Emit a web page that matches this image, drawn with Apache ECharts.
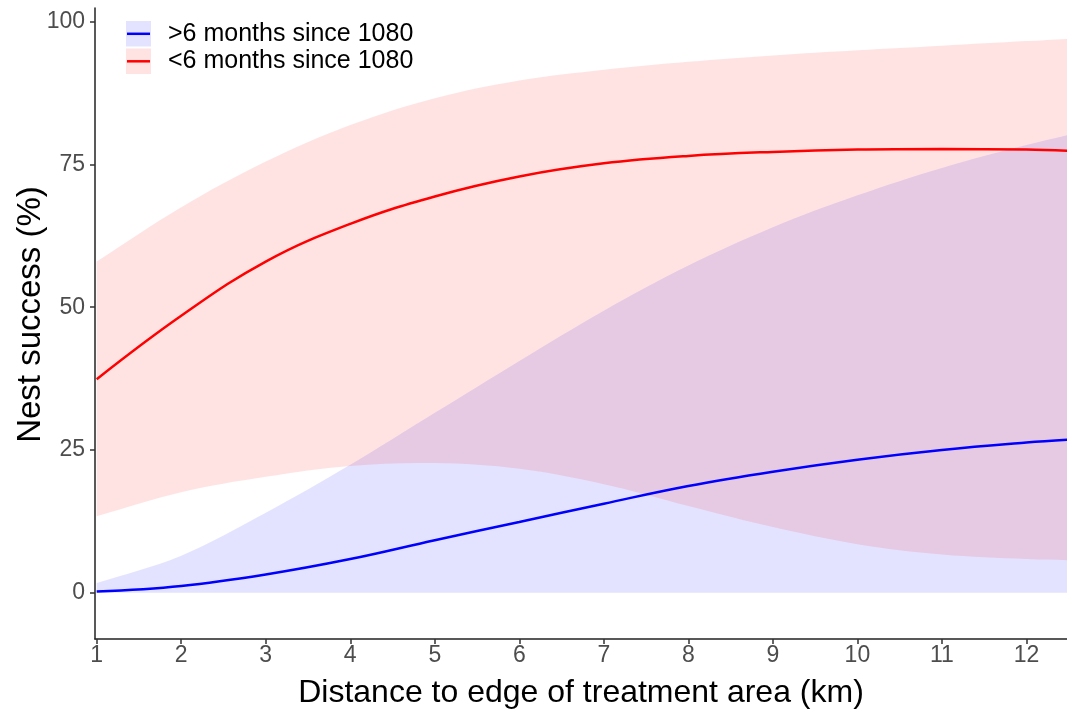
<!DOCTYPE html>
<html>
<head>
<meta charset="utf-8">
<script src="https://cdn.jsdelivr.net/npm/echarts@6/dist/echarts.min.js"></script>
<style>
  html, body { margin: 0; padding: 0; background: #fff; }
  #chart { width: 1067px; height: 709px; }
</style>
</head>
<body>
<div id="chart"></div>
<script>
// 数据
var distance = [1, 2, 3, 4, 5, 6, 7, 8, 9, 10, 11, 12, 12.5];
// >6 months since 1080
var blueFit   = [0.2, 1.2, 3.2, 5.9, 9.2, 12.4, 15.6, 18.7, 21.2, 23.3, 25.0, 26.3, 26.8];
var blueLower = [0, 0, 0, 0, 0, 0, 0, 0, 0, 0, 0, 0, 0];
var blueUpper = [1.7, 6.5, 14.0, 22.4, 31.5, 40.6, 49.4, 57.3, 64.0, 69.6, 74.4, 78.4, 80.2];
// <6 months since 1080
var redFit   = [37.4, 48.5, 58.0, 64.6, 69.4, 72.9, 75.2, 76.5, 77.2, 77.6, 77.7, 77.6, 77.4];
var redLower = [13.4, 17.6, 20.3, 22.2, 22.7, 21.7, 19.0, 15.2, 11.5, 8.5, 6.7, 5.9, 5.7];
var redUpper = [58.0, 67.5, 75.5, 81.9, 86.6, 89.7, 91.6, 93.0, 94.1, 95.0, 95.8, 96.6, 97.0];
// 刻度
var xTicks = [1, 2, 3, 4, 5, 6, 7, 8, 9, 10, 11, 12];
var yTicks = [0, 25, 50, 75, 100];
var seriesNames = ['>6 months since 1080', '<6 months since 1080'];

var FONT = '"Liberation Sans", Arial, sans-serif';

function pairs(xs, ys) {
    return xs.map(function (x, i) { return [x, ys[i]]; });
}

// 置信区间：custom 系列画一个平滑多边形（上沿正向 + 下沿反向）
function ribbon(name, lo, hi, fill) {
    return {
        name: name,
        type: 'custom',
        silent: true,
        clip: true,
        data: distance.map(function (x, i) { return [x, lo[i], hi[i]]; }),
        encode: { x: 0, y: [1, 2] },
        renderItem: function (params, api) {
            if (params.dataIndex !== 0) return;
            var pts = [];
            var n = distance.length;
            for (var i = 0; i < n; i++) {
                var p = api.coord([distance[i], hi[i]]);
                pts.push(p);
                // 端点重复一次，保证两端是直角
                if (i === 0 || i === n - 1) pts.push([p[0], p[1]]);
            }
            for (var j = n - 1; j >= 0; j--) {
                var q = api.coord([distance[j], lo[j]]);
                pts.push(q);
                if (j === 0 || j === n - 1) pts.push([q[0], q[1]]);
            }
            return {
                type: 'polygon',
                shape: { points: pts, smooth: 0.35 },
                style: { fill: fill, stroke: null }
            };
        }
    };
}

function fitLine(name, ys, color) {
    return {
        name: name,
        type: 'line',
        data: pairs(distance, ys),
        smooth: 0.4,
        symbol: 'none',
        lineStyle: { color: color, width: 2.5 },
        itemStyle: { color: color }
    };
}

var chart = echarts.init(document.getElementById('chart'));

var series = [
    ribbon('blue CI', blueLower, blueUpper, 'rgba(0,0,255,0.11)'),
    ribbon('red CI', redLower, redUpper, 'rgba(255,0,0,0.11)'),
    fitLine(seriesNames[0], blueFit, '#0000ff'),
    fitLine(seriesNames[1], redFit, '#ff0000')
];

// 图例（手绘）
var legendItems = [];
[['rgba(0,0,255,0.11)', '#0000ff', 21], ['rgba(255,0,0,0.11)', '#ff0000', 48.5]].forEach(function (c, i) {
    legendItems.push({
        type: 'rect', shape: { x: 126, y: c[2], width: 25, height: 25.5 },
        style: { fill: c[0] }
    });
    legendItems.push({
        type: 'line', shape: { x1: 127, y1: c[2] + 12.8, x2: 150, y2: c[2] + 12.8 },
        style: { stroke: c[1], lineWidth: 2.5 }
    });
    legendItems.push({
        type: 'text', x: 168, y: c[2] + 13,
        style: { text: seriesNames[i], fill: '#000', font: '25px ' + FONT, verticalAlign: 'middle', align: 'left' }
    });
});

var option = {
    backgroundColor: '#fff',
    animation: false,
    grid: { left: 95, right: 0, top: 8, bottom: 70, containLabel: false, outerBoundsMode: 'none' },
    xAxis: {
        type: 'value',
        min: 0.98,
        max: 12.48,
        name: 'Distance to edge of treatment area (km)',
        nameLocation: 'middle',
        nameGap: 38,
        nameMoveOverlap: false,
        nameTextStyle: { color: '#000', fontSize: 32, fontFamily: FONT },
        splitLine: { show: false },
        axisLine: { onZero: false, lineStyle: { color: '#222', width: 1.5 } },
        axisTick: { customValues: xTicks, length: 5, lineStyle: { color: '#333', width: 1.5 } },
        axisLabel: { customValues: xTicks, color: '#4d4d4d', fontSize: 23, fontFamily: FONT, margin: 5 }
    },
    yAxis: {
        type: 'value',
        min: -8.1,
        max: 102.4,
        name: 'Nest success (%)',
        nameLocation: 'middle',
        nameRotate: 90,
        nameGap: 48,
        nameMoveOverlap: false,
        nameTextStyle: { color: '#000', fontSize: 33, fontFamily: FONT, padding: [0, 0, 0, 18] },
        splitLine: { show: false },
        axisLine: { show: true, onZero: false, lineStyle: { color: '#222', width: 1.5 } },
        axisTick: { show: true, customValues: yTicks, length: 5, lineStyle: { color: '#333', width: 1.5 } },
        axisLabel: { customValues: yTicks, color: '#4d4d4d', fontSize: 23, fontFamily: FONT, margin: 10 }
    },
    graphic: legendItems,
    series: series
};
chart.setOption(option);
</script>
</body>
</html>
